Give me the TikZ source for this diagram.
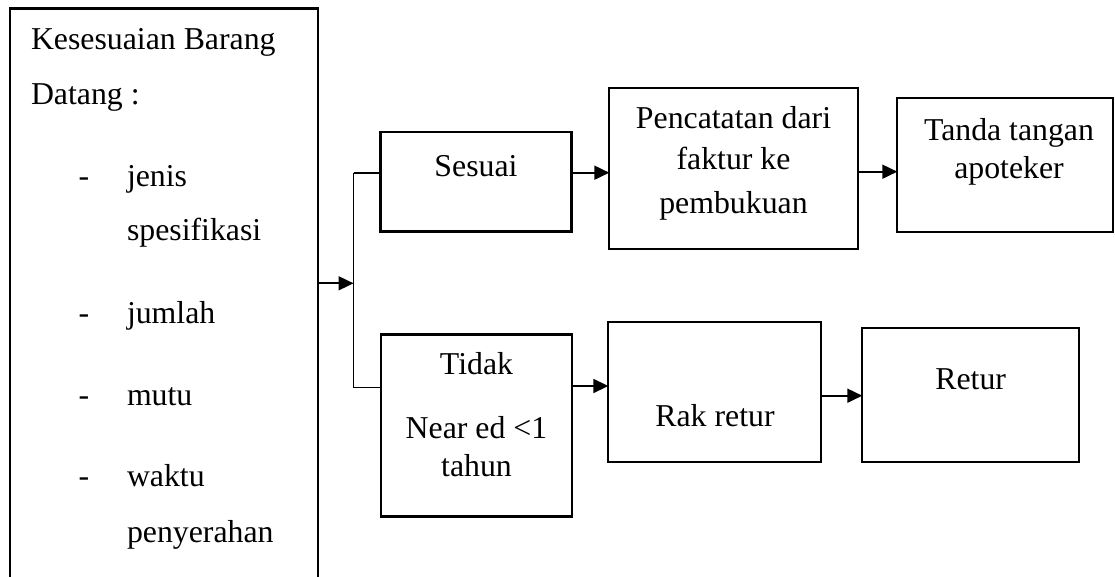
\documentclass[tikz,border=0pt]{standalone}
\usepackage{fontspec}
\setmainfont{Liberation Serif}
\usetikzlibrary{arrows.meta,calc}
\tikzset{
  box/.style={draw=black, line width=2.3pt, fill=none, inner sep=0pt, outer sep=0pt},
  conn/.style={draw=black, line width=1.8pt},
  arr/.style={conn, -{Triangle[length=15pt,width=14pt]}, shorten >=0pt},
  lbl/.style={inner sep=0pt, outer sep=0pt, font=\fontsize{31.8}{38}\selectfont}
}
\begin{document}
\begin{tikzpicture}[x=1pt,y=-1pt]
\path[use as bounding box, clip] (0,0) rectangle (1115,577);
\fill[white] (0,0) rectangle (1115,577);
% boxes
\node[box, anchor=north west, minimum width=308pt, minimum height=620pt] (main) at (10,8.5) {};
\node[box, anchor=north west, minimum width=191pt, minimum height=99.5pt] (sesuai) at (380.5,132) {};
\node[box, anchor=north west, minimum width=248.4pt, minimum height=160.7pt] (pencat) at (609.3,88.3) {};
\node[box, anchor=north west, minimum width=215.7pt, minimum height=133.4pt] (tanda) at (897.3,98.3) {};
\node[box, anchor=north west, minimum width=191pt, minimum height=182pt] (tidak) at (380.7,334.5) {};
\node[box, anchor=north west, minimum width=212.4pt, minimum height=139.4pt] (rak) at (608.3,322.3) {};
\node[box, anchor=north west, minimum width=216.7pt, minimum height=133.4pt] (retur) at (862.3,328.3) {};
% texts of the main box
\node[lbl, anchor=base west] (t1) at (31,49.3) {Kesesuaian Barang};
\node[lbl, anchor=base west] (t2) at (31,105) {Datang :};
\node[lbl, anchor=base] (d1) at (83.8,186.7) {-};
\node[lbl, anchor=base west] (t3) at (127,186.7) {jenis};
\node[lbl, anchor=base west] (t4) at (127,240.7) {spesifikasi};
\node[lbl, anchor=base] (d2) at (83.8,323.7) {-};
\node[lbl, anchor=base west] (t5) at (127,323.7) {jumlah};
\node[lbl, anchor=base] (d3) at (83.8,405.3) {-};
\node[lbl, anchor=base west] (t6) at (127,405.3) {mutu};
\node[lbl, anchor=base] (d4) at (83.8,486) {-};
\node[lbl, anchor=base west] (t7) at (127,486) {waktu};
\node[lbl, anchor=base west] (t8) at (127,542) {penyerahan};
% other texts
\node[lbl, anchor=base] (s1) at (476,176.7) {Sesuai};
\node[lbl, anchor=base] (p1) at (733.5,128.3) {Pencatatan dari};
\node[lbl, anchor=base] (p2) at (733.5,170) {faktur ke};
\node[lbl, anchor=base] (p3) at (733.5,214) {pembukuan};
\node[lbl, anchor=base] (a1) at (1009,141) {Tanda tangan};
\node[lbl, anchor=base] (a2) at (1009,178.3) {apoteker};
\node[lbl, anchor=base] (n1) at (476.5,374) {Tidak};
\node[lbl, anchor=base] (n2) at (476.5,438.3) {Near ed <1};
\node[lbl, anchor=base] (n3) at (476.5,476.7) {tahun};
\node[lbl, anchor=base] (r1) at (715,426.7) {Rak retur};
\node[lbl, anchor=base] (r2) at (970.7,389.3) {Retur};
% connectors
\coordinate (busT) at (353.5,172.7);
\coordinate (busM) at (353.5,283.3);
\coordinate (busB) at (353.5,387.5);
\draw[conn] (busT) -- (busB);
\draw[conn] (busT) -- (busT -| sesuai.west);
\draw[conn] (busB) -- (busB -| tidak.west);
\draw[arr] (main.east |- busM) -- (busM);
\draw[arr] (sesuai.east |- busT) -- (pencat.west |- busT);
\draw[arr] ([yshift=1pt]pencat.east |- busT) -- ([yshift=1pt]tanda.west |- busT);
\draw[arr] ([yshift=1.5pt]tidak.east |- busB) -- ([yshift=1.5pt]rak.west |- busB);
\draw[arr] ([yshift=-3.7pt]rak.east) -- ([yshift=-3.7pt]rak.east -| retur.west);
\end{tikzpicture}
\end{document}
